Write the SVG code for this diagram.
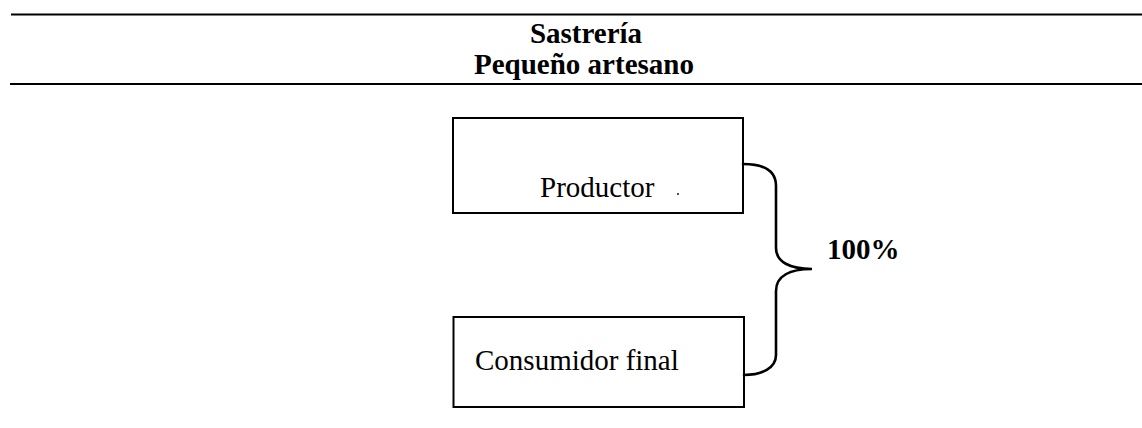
<svg xmlns="http://www.w3.org/2000/svg" width="1142" height="428" viewBox="0 0 1142 428">
<style>
.rule{stroke:#000;stroke-width:2.2;fill:none}
.box{stroke:#000;stroke-width:2;fill:#fff}
.t{font-family:"Liberation Serif","Times New Roman",serif;font-size:29px;fill:#000}
.b{font-weight:bold}
.conn{stroke:#000;stroke-width:2.6;fill:none;stroke-linecap:round}
</style>
<rect width="1142" height="428" fill="#fff"/>
<g id="header">
<line class="rule" x1="11" y1="14.5" x2="1142" y2="14.5"/>
<line class="rule" x1="10" y1="84" x2="1142" y2="84"/>
<text class="t b" x="586" y="42.5" text-anchor="middle">Sastrería</text>
<text class="t b" x="584" y="74" text-anchor="middle">Pequeño artesano</text>
</g>
<g id="productor">
<rect class="box" x="453" y="118" width="290" height="95"/>
<text class="t" x="540" y="197">Productor</text>
<circle cx="678" cy="194" r="0.9" fill="#000"/>
</g>
<g id="consumidor">
<rect class="box" x="453.5" y="317" width="290.5" height="90"/>
<text class="t" x="475" y="370">Consumidor final</text>
</g>
<g id="connectors">
<path class="conn" d="M743,164 C762,164 776,170 776,186 L776,248 C776,262 790,269 812,269 C790,269 776,276 776,291 L776,355 C776,368 762,375 744,375"/>
</g>
<g id="label">
<text class="t b" x="827" y="259" font-size="27">100%</text>
</g>
</svg>
